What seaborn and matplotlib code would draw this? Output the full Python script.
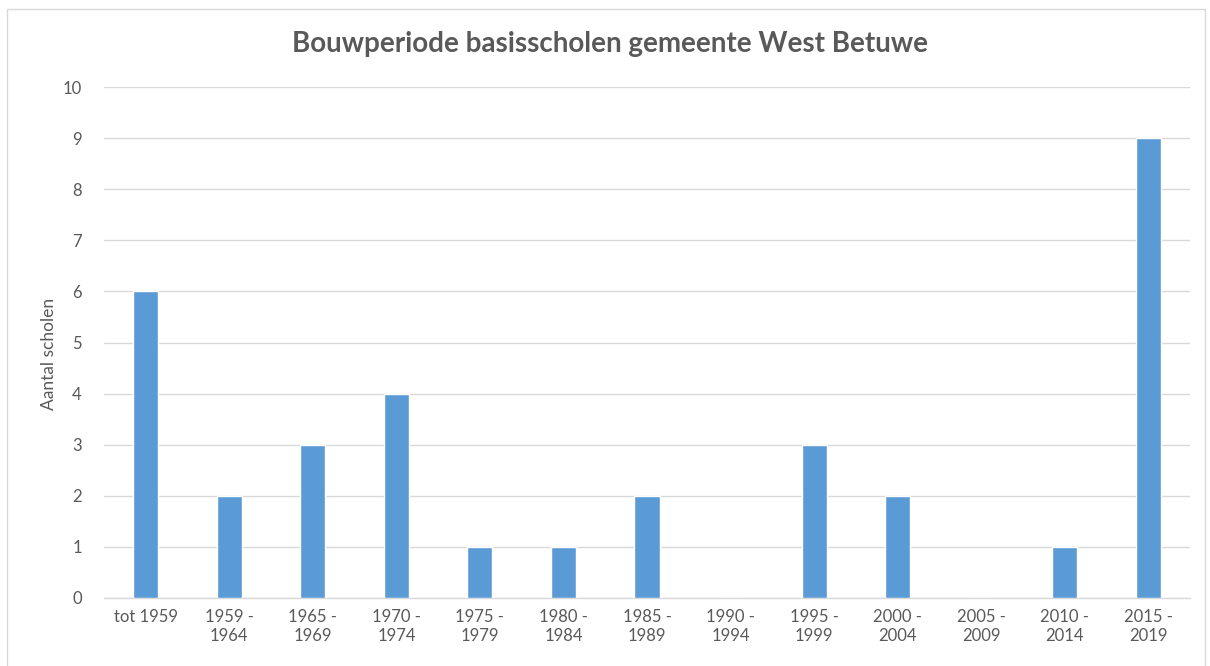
import matplotlib
matplotlib.use("Agg")
import matplotlib.pyplot as plt
import seaborn as sns
import pandas as pd
from matplotlib.patches import Rectangle

categories = ["tot 1959", "1959 -\n1964", "1965 -\n1969", "1970 -\n1974", "1975 -\n1979",
              "1980 -\n1984", "1985 -\n1989", "1990 -\n1994", "1995 -\n1999", "2000 -\n2004",
              "2005 -\n2009", "2010 -\n2014", "2015 -\n2019"]
values = [6, 2, 3, 4, 1, 1, 2, 0, 3, 2, 0, 1, 9]
yticks = list(range(0, 11))

sns.set_theme(style="white")
plt.rcParams['font.family'] = ['Lato', 'DejaVu Sans']

W, H = 1210, 666
fig = plt.figure(figsize=(W / 100, H / 100), dpi=100)
ax = fig.add_axes([104 / W, 1 - 598 / H, (1190 - 104) / W, (598 - 87) / H])

df = pd.DataFrame({"cat": categories, "val": values})
sns.barplot(data=df, x="cat", y="val", ax=ax, color="#5b9bd5", saturation=1, width=0.30, zorder=3)

ax.set_ylim(0, 10)
ax.set_xlim(-0.5, len(categories) - 0.5)
ax.set_yticks(yticks)
ax.grid(axis="y", color="#d9d9d9", linewidth=1, zorder=0)
for s in ["top", "right", "left"]:
    ax.spines[s].set_visible(False)
ax.spines["bottom"].set_color("#d9d9d9")
ax.spines["bottom"].set_linewidth(1)
ax.tick_params(axis="both", length=0, labelsize=12, labelcolor="#595959")
ax.tick_params(axis="y", pad=16)
ax.tick_params(axis="x", pad=8)
ax.set_xlabel("")
ax.set_ylabel("Aantal scholen", fontsize=12.5, color="#595959")
ax.yaxis.set_label_coords(-(104 - 49) / (1190 - 104), (598 - 354) / (598 - 87))
ax.yaxis.label.set_va("center")

fig.text(609.5 / W, 1 - 44 / H, "Bouwperiode basisscholen gemeente West Betuwe",
         ha="center", va="center", fontsize=20, fontweight="bold", color="#595959")

fig.patches.append(Rectangle((7 / W, -0.05), (1205 - 7) / W, 1 - 9 / H + 0.05,
                             transform=fig.transFigure, fill=False,
                             edgecolor="#d9d9d9", linewidth=1))

fig.savefig("out.png", dpi=100, facecolor="white")
